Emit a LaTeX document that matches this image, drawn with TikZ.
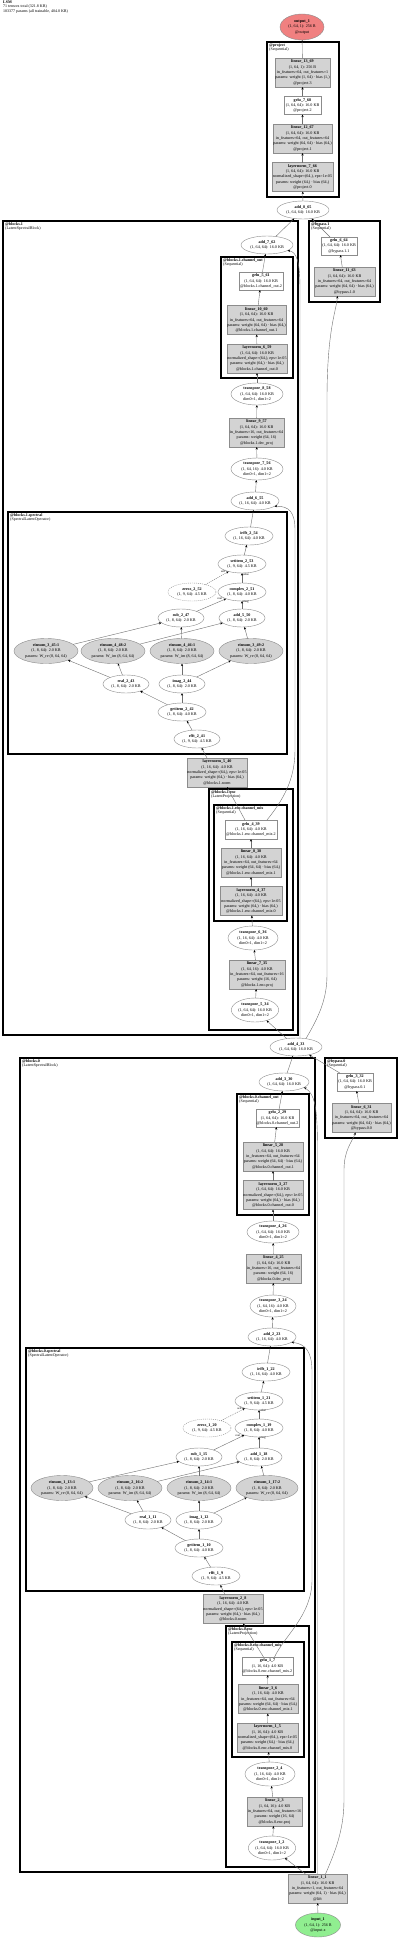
\documentclass[tikz,border=0pt]{standalone}
\usepackage{fontspec}
\setmainfont{Liberation Serif}
\usetikzlibrary{shapes.geometric,arrows.meta,calc}
\definecolor{ng}{HTML}{8C8C8C}
\definecolor{eg}{HTML}{707070}
\definecolor{gf}{HTML}{D3D3D3}
\definecolor{outc}{HTML}{F08080}
\definecolor{inc}{HTML}{90EE90}
\newcommand\nf{\fontsize{4.1}{5.3}\selectfont}
\newcommand\cf{\fontsize{4}{4}\selectfont}
\newcommand\shA{(1, 64, 64): 16.0 KB}
\newcommand\shB{(1, 16, 64): 4.0 KB}
\newcommand\shC{(1, 64, 16): 4.0 KB}
\newcommand\shD{(1, 9, 64): 4.5 KB}
\newcommand\shF{(1, 8, 64): 4.0 KB}
\newcommand\shG{(1, 8, 64): 2.0 KB}
\newcommand\shE{(1, 64, 1): 256 B}
\newcommand\linA{in\_features=64, out\_features=64}
\newcommand\linB{params: weight (64, 64) · bias (64,)}
\newcommand\lnA{normalized\_shape=(64,), eps=1e-05}
\newcommand\lnB{params: weight (64,) · bias (64,)}
\newcommand\trA{dim0=1, dim1=2}
\begin{document}
\begin{tikzpicture}[x=1pt,y=-1pt,
  base/.style={draw=ng,line width=0.4pt,inner sep=0pt,outer sep=0pt,align=center,font=\nf},
  ell/.style={base,ellipse,fill=white},
  box/.style={base,rectangle,fill=white},
  gbox/.style={base,rectangle,fill=gf},
  gell/.style={base,ellipse,fill=gf},
  sz/.style n args={2}{minimum width=#1pt,minimum height=#2pt},
  edge/.style={draw=eg,line width=0.4pt,-{Stealth[length=2.6pt,width=2.2pt,color=black]}},
  clus/.style={draw=black,line width=1.2pt},
  clab/.style={anchor=north west,inner sep=0pt,align=left,font=\cf},
  elab/.style={font=\fontsize{3}{3}\selectfont,inner sep=0.3pt}
]
\useasboundingbox[fill=white] (0,0) rectangle (400,1940);

% header
\node[anchor=north west,inner sep=0pt,align=left,font=\fontsize{4}{4.1}\selectfont] (hdr) at (3,1) {\textbf{LSM}\\71 tensors total (321.8 KB)\\103377 params (all trainable, 404.0 KB)};

% clusters
\draw[clus] (267,42) rectangle (339,197);
\node[clab] (cproject) at (269,43.5) {\textbf{@project}\\(Sequential)};
\draw[clus] (3,221) rectangle (298,1035);
\node[clab] (cb1) at (5,222.5) {\textbf{@blocks.1}\\(LatentSpectralBlock)};
\draw[clus] (309,221) rectangle (380,302);
\node[clab] (cbp1) at (311,222.5) {\textbf{@bypass.1}\\(Sequential)};
\draw[clus] (221,257) rectangle (293,378);
\node[clab] (cb1co) at (223,258.5) {\textbf{@blocks.1.channel\_out}\\(Sequential)};
\draw[clus] (8,512) rectangle (287,754);
\node[clab] (cb1sp) at (10,513.5) {\textbf{@blocks.1.spectral}\\(SpectralLatentOperator)};
\draw[clus] (209,789) rectangle (293,1030);
\node[clab] (cb1enc) at (211,790.5) {\textbf{@blocks.1.enc}\\(LatentProjection)};
\draw[clus] (214,805) rectangle (287,921);
\node[clab] (cb1cm) at (216,806.5) {\textbf{@blocks.1.enc.channel\_mix}\\(Sequential)};
\draw[clus] (20,1058) rectangle (315,1872);
\node[clab] (cb0) at (22,1059.5) {\textbf{@blocks.0}\\(LatentSpectralBlock)};
\draw[clus] (325,1058) rectangle (397,1138);
\node[clab] (cbp0) at (327,1059.5) {\textbf{@bypass.0}\\(Sequential)};
\draw[clus] (237,1094) rectangle (309,1215);
\node[clab] (cb0co) at (239,1095.5) {\textbf{@blocks.0.channel\_out}\\(Sequential)};
\draw[clus] (26,1348) rectangle (304,1591);
\node[clab] (cb0sp) at (28,1349.5) {\textbf{@blocks.0.spectral}\\(SpectralLatentOperator)};
\draw[clus] (226,1626) rectangle (309,1867);
\node[clab] (cb0enc) at (228,1627.5) {\textbf{@blocks.0.enc}\\(LatentProjection)};
\draw[clus] (232,1642) rectangle (304,1757);
\node[clab] (cb0cm) at (234,1643.5) {\textbf{@blocks.0.enc.channel\_mix}\\(Sequential)};

% project
\node[ell,sz={44}{26},fill=outc] (out1) at (302,27) {\textbf{output\_1}\\\shE\\@output};
\node[gbox,sz={55}{29}] (lin1369) at (302.5,72.5) {\textbf{linear\_13\_69}\\\shE\\in\_features=64, out\_features=1\\params: weight (1, 64) · bias (1,)\\@project.3};
\node[box,sz={37}{18}] (gelu768) at (302.5,105.5) {\textbf{gelu\_7\_68}\\\shA\\@project.2};
\node[gbox,sz={59}{29}] (lin1267) at (302.5,138.5) {\textbf{linear\_12\_67}\\\shA\\\linA\\\linB\\@project.1};
\node[gbox,sz={61}{29}] (ln766) at (302.5,177) {\textbf{layernorm\_7\_66}\\\shA\\\lnA\\\lnB\\@project.0};
\node[ell,sz={52}{18}] (add865) at (303,210) {\textbf{add\_8\_65}\\\shA};

% bypass.1
\node[box,sz={36}{18}] (gelu664) at (339,246) {\textbf{gelu\_6\_64}\\\shA\\@bypass.1.1};
\node[gbox,sz={61}{29}] (lin1163) at (344.5,281.5) {\textbf{linear\_11\_63}\\\shA\\\linA\\\linB\\@bypass.1.0};

% blocks.1
\node[ell,sz={52}{18}] (add762) at (267,245) {\textbf{add\_7\_62}\\\shA};
\node[box,sz={44}{18}] (gelu561) at (261,281) {\textbf{gelu\_5\_61}\\\shA\\@blocks.1.channel\_out.2};
\node[gbox,sz={59}{29}] (lin1060) at (256.5,320) {\textbf{linear\_10\_60}\\\shA\\\linA\\\linB\\@blocks.1.channel\_out.1};
\node[gbox,sz={60}{29}] (ln659) at (257,358.5) {\textbf{layernorm\_6\_59}\\\shA\\\lnA\\\lnB\\@blocks.1.channel\_out.0};
\node[ell,sz={52}{22}] (tr858) at (257,394) {\textbf{transpose\_8\_58}\\\shA\\\trA};
\node[gbox,sz={55}{29}] (lin957) at (256.5,432.5) {\textbf{linear\_9\_57}\\\shA\\in\_features=16, out\_features=64\\params: weight (64, 16)\\@blocks.1.dec\_proj};
\node[ell,sz={52}{22}] (tr756) at (257,469) {\textbf{transpose\_7\_56}\\\shC\\\trA};
\node[ell,sz={48}{18}] (add655) at (255,501) {\textbf{add\_6\_55}\\\shB};
\node[ell,sz={48}{18}] (irfft254) at (249,536) {\textbf{irfft\_2\_54}\\\shB};
\node[ell,sz={48}{18}] (set253) at (242,564) {\textbf{setitem\_2\_53}\\\shD};
\node[ell,sz={48}{18},dash pattern=on 1pt off 1pt] (zeros252) at (192,592) {\textbf{zeros\_2\_52}\\\shD};
\node[ell,sz={48}{18}] (cplx251) at (242,592) {\textbf{complex\_2\_51}\\\shF};
\node[ell,sz={46}{18}] (sub247) at (181,618) {\textbf{sub\_2\_47}\\\shG};
\node[ell,sz={46}{18}] (add550) at (242,618) {\textbf{add\_5\_50}\\\shG};
\node[gell,sz={64}{25}] (ein345) at (46,651) {\textbf{einsum\_3\_45:1}\\\shG\\params: W\_re (8, 64, 64)};
\node[gell,sz={64}{25}] (ein448) at (113,651) {\textbf{einsum\_4\_48:2}\\\shG\\params: W\_im (8, 64, 64)};
\node[gell,sz={64}{25}] (ein446) at (182,651) {\textbf{einsum\_4\_46:1}\\\shG\\params: W\_im (8, 64, 64)};
\node[gell,sz={64}{25}] (ein349) at (251,651) {\textbf{einsum\_3\_49:2}\\\shG\\params: W\_re (8, 64, 64)};
\node[ell,sz={46}{18}] (real243) at (126,684) {\textbf{real\_2\_43}\\\shG};
\node[ell,sz={46}{18}] (imag244) at (182,684) {\textbf{imag\_2\_44}\\\shG};
\node[ell,sz={48}{18}] (get242) at (182,712) {\textbf{getitem\_2\_42}\\\shF};
\node[ell,sz={46}{18}] (rfft241) at (197,739) {\textbf{rfft\_2\_41}\\\shD};
\node[gbox,sz={60}{29}] (ln540) at (217,772.5) {\textbf{layernorm\_5\_40}\\\shB\\\lnA\\\lnB\\@blocks.1.norm};
\node[box,sz={52}{19}] (gelu439) at (251,829.5) {\textbf{gelu\_4\_39}\\\shB\\@blocks.1.enc.channel\_mix.2};
\node[gbox,sz={60}{29}] (lin838) at (251,862.5) {\textbf{linear\_8\_38}\\\shB\\\linA\\\linB\\@blocks.1.enc.channel\_mix.1};
\node[gbox,sz={62}{29}] (ln437) at (251,901) {\textbf{layernorm\_4\_37}\\\shB\\\lnA\\\lnB\\@blocks.1.enc.channel\_mix.0};
\node[ell,sz={50}{24}] (tr636) at (253,938) {\textbf{transpose\_6\_36}\\\shB\\\trA};
\node[gbox,sz={56}{29}] (lin735) at (257,974.5) {\textbf{linear\_7\_35}\\\shC\\in\_features=64, out\_features=16\\params: weight (16, 64)\\@blocks.1.enc.proj};
\node[ell,sz={44}{24}] (tr534) at (255,1010) {\textbf{transpose\_5\_34}\\\shA\\\trA};
\node[ell,sz={52}{18}] (add433) at (296,1047) {\textbf{add\_4\_33}\\\shA};

% bypass.0
\node[box,sz={36}{18}] (gelu332) at (355,1082) {\textbf{gelu\_3\_32}\\\shA\\@bypass.0.1};
\node[gbox,sz={59}{29}] (lin631) at (361.5,1118) {\textbf{linear\_6\_31}\\\shA\\\linA\\\linB\\@bypass.0.0};

% blocks.0
\node[ell,sz={50}{18}] (add330) at (284,1082) {\textbf{add\_3\_30}\\\shA};
\node[box,sz={43}{18}] (gelu229) at (277.5,1118) {\textbf{gelu\_2\_29}\\\shA\\@blocks.0.channel\_out.2};
\node[gbox,sz={60}{29}] (lin528) at (273,1156.5) {\textbf{linear\_5\_28}\\\shA\\\linA\\\linB\\@blocks.0.channel\_out.1};
\node[gbox,sz={60}{29}] (ln327) at (273,1195) {\textbf{layernorm\_3\_27}\\\shA\\\lnA\\\lnB\\@blocks.0.channel\_out.0};
\node[ell,sz={52}{22}] (tr426) at (273,1232) {\textbf{transpose\_4\_26}\\\shA\\\trA};
\node[gbox,sz={55}{29}] (lin425) at (273.5,1268.5) {\textbf{linear\_4\_25}\\\shA\\in\_features=16, out\_features=64\\params: weight (64, 16)\\@blocks.0.dec\_proj};
\node[ell,sz={46}{22}] (tr324) at (273,1306) {\textbf{transpose\_3\_24}\\\shC\\\trA};
\node[ell,sz={48}{18}] (add223) at (272,1337) {\textbf{add\_2\_23}\\\shB};
\node[ell,sz={48}{18}] (irfft122) at (266,1372) {\textbf{irfft\_1\_22}\\\shB};
\node[ell,sz={48}{18}] (set121) at (259,1401) {\textbf{setitem\_1\_21}\\\shD};
\node[ell,sz={48}{18},dash pattern=on 1pt off 1pt] (zeros120) at (207,1428) {\textbf{zeros\_1\_20}\\\shD};
\node[ell,sz={48}{18}] (cplx119) at (259,1428) {\textbf{complex\_1\_19}\\\shF};
\node[ell,sz={46}{18}] (sub115) at (199,1457) {\textbf{sub\_1\_15}\\\shG};
\node[ell,sz={46}{18}] (add118) at (259,1457) {\textbf{add\_1\_18}\\\shG};
\node[gell,sz={62}{25}] (ein113) at (62,1488) {\textbf{einsum\_1\_13:1}\\\shG\\params: W\_re (8, 64, 64)};
\node[gell,sz={64}{25}] (ein216) at (130,1488) {\textbf{einsum\_2\_16:2}\\\shG\\params: W\_im (8, 64, 64)};
\node[gell,sz={64}{25}] (ein214) at (199,1488) {\textbf{einsum\_2\_14:1}\\\shG\\params: W\_im (8, 64, 64)};
\node[gell,sz={62}{25}] (ein117) at (267,1488) {\textbf{einsum\_1\_17:2}\\\shG\\params: W\_re (8, 64, 64)};
\node[ell,sz={46}{18}] (real111) at (148,1520) {\textbf{real\_1\_11}\\\shG};
\node[ell,sz={46}{18}] (imag112) at (199,1520) {\textbf{imag\_1\_12}\\\shG};
\node[ell,sz={48}{18}] (get110) at (199,1548) {\textbf{getitem\_1\_10}\\\shF};
\node[ell,sz={48}{18}] (rfft19) at (216,1576) {\textbf{rfft\_1\_9}\\\shD};
\node[gbox,sz={60}{29}] (ln28) at (233,1609) {\textbf{layernorm\_2\_8}\\\shB\\\lnA\\\lnB\\@blocks.0.norm};
\node[box,sz={51}{18}] (gelu17) at (267.5,1666) {\textbf{gelu\_1\_7}\\\shB\\@blocks.0.enc.channel\_mix.2};
\node[gbox,sz={60}{29}] (lin36) at (268,1699) {\textbf{linear\_3\_6}\\\shB\\\linA\\\linB\\@blocks.0.enc.channel\_mix.1};
\node[gbox,sz={61}{29}] (ln15) at (267.5,1737.5) {\textbf{layernorm\_1\_5}\\\shB\\\lnA\\\lnB\\@blocks.0.enc.channel\_mix.0};
\node[ell,sz={50}{24}] (tr24) at (270,1774) {\textbf{transpose\_2\_4}\\\shB\\\trA};
\node[gbox,sz={55}{29}] (lin23) at (274.5,1811.5) {\textbf{linear\_2\_3}\\\shC\\in\_features=64, out\_features=16\\params: weight (16, 64)\\@blocks.0.enc.proj};
\node[ell,sz={44}{24}] (tr12) at (272,1848) {\textbf{transpose\_1\_2}\\\shA\\\trA};
\node[gbox,sz={59}{29}] (lin11) at (317.5,1888.5) {\textbf{linear\_1\_1}\\\shA\\in\_features=1, out\_features=64\\params: weight (64, 1) · bias (64,)\\@lift};
\node[ell,sz={45}{24},fill=inc] (in1) at (318,1925) {\textbf{input\_1}\\\shE\\@input.x};

% ---------- edges ----------
\draw[edge] (in1) -- (lin11);
\draw[edge] ($(lin11.north)+(-12,0)$) -- (tr12);
\draw[edge] (tr12) -- (lin23);
\draw[edge] (lin23) -- (tr24);
\draw[edge] (tr24) -- (ln15);
\draw[edge] (ln15) -- (lin36);
\draw[edge] (lin36) -- (gelu17);
\draw[edge] ($(gelu17.north)+(-4,0)$) -- ($(ln28.south)+(10,0)$);
\draw[edge] ($(ln28.north)+(-8,0)$) -- (rfft19);
\draw[edge] (rfft19) -- (get110);
\draw[edge] (get110) -- (real111);
\draw[edge] (get110) -- (imag112);
\draw[edge] (real111) -- (ein113);
\draw[edge] (real111) -- (ein216);
\draw[edge] (imag112) -- (ein214);
\draw[edge] (imag112) -- (ein117);
\draw[edge] (ein113) -- (sub115);
\draw[edge] (ein214) -- (sub115);
\draw[edge] (ein216) -- (add118);
\draw[edge] (ein117) -- (add118);
\draw[edge] (sub115) -- node[elab,pos=0.88,above left] {real} (cplx119);
\draw[edge] (add118) -- node[elab,pos=0.9,right] {imag} (cplx119);
\draw[edge] (cplx119) -- node[elab,pos=0.9,right] {value} (set121);
\draw[edge,dash pattern=on 1pt off 1pt] (zeros120) -- node[elab,pos=0.88,above left] {self} (set121);
\draw[edge] (set121) -- (irfft122);
\draw[edge] (irfft122) -- (add223);
\draw[edge] ($(gelu17.north)+(7,0)$) .. controls (285,1635) and (312,1615) .. (312,1580) -- (312,1372) .. controls (312,1352) and (306,1344) .. (add223.-15);
\draw[edge] (add223) -- (tr324);
\draw[edge] (tr324) -- (lin425);
\draw[edge] (lin425) -- (tr426);
\draw[edge] (tr426) -- (ln327);
\draw[edge] (ln327) -- (lin528);
\draw[edge] (lin528) -- (gelu229);
\draw[edge] (gelu229) -- (add330);
\draw[edge] (lin11.north) -- (317.5,1150) .. controls (317.5,1108) and (315,1094) .. (add330.-15);
\draw[edge] ($(lin11.north)+(8,0)$) .. controls (335,1852) and (344,1830) .. (344,1800) -- (344,1170) .. controls (344,1150) and (352,1142) .. ($(lin631.south)+(-6,0)$);
\draw[edge] (lin631) -- (gelu332);
\draw[edge] (gelu332) -- (add433);
\draw[edge] (add330) -- (add433);
\draw[edge] (add433) -- (tr534);
\draw[edge] (tr534) -- (lin735);
\draw[edge] (lin735) -- (tr636);
\draw[edge] (tr636) -- (ln437);
\draw[edge] (ln437) -- (lin838);
\draw[edge] (lin838) -- (gelu439);
\draw[edge] ($(gelu439.north)+(-6,0)$) -- ($(ln540.south)+(10,0)$);
\draw[edge] ($(ln540.north)+(-10,0)$) -- (rfft241);
\draw[edge] (rfft241) -- (get242);
\draw[edge] (get242) -- (real243);
\draw[edge] (get242) -- (imag244);
\draw[edge] (real243) -- (ein345);
\draw[edge] (real243) -- (ein448);
\draw[edge] (imag244) -- (ein446);
\draw[edge] (imag244) -- (ein349);
\draw[edge] (ein345) -- (sub247);
\draw[edge] (ein446) -- (sub247);
\draw[edge] (ein448) -- (add550);
\draw[edge] (ein349) -- (add550);
\draw[edge] (sub247) -- node[elab,pos=0.88,above left] {real} (cplx251);
\draw[edge] (add550) -- node[elab,pos=0.9,right] {imag} (cplx251);
\draw[edge] (cplx251) -- node[elab,pos=0.9,right] {value} (set253);
\draw[edge,dash pattern=on 1pt off 1pt] (zeros252) -- node[elab,pos=0.88,above left] {self} (set253);
\draw[edge] (set253) -- (irfft254);
\draw[edge] (irfft254) -- (add655);
\draw[edge] ($(gelu439.north)+(16,0)$) .. controls (283,800) and (295,780) .. (295,750) -- (295,530) .. controls (295,512) and (289,506) .. (add655.-15);
\draw[edge] (add655) -- (tr756);
\draw[edge] (tr756) -- (lin957);
\draw[edge] (lin957) -- (tr858);
\draw[edge] (tr858) -- (ln659);
\draw[edge] (ln659) -- (lin1060);
\draw[edge] (lin1060) -- (gelu561);
\draw[edge] (gelu561) -- (add762);
\draw[edge] ($(add433.north)+(4,0)$) -- (300,290) .. controls (300,262) and (297,252) .. (add762.-15);
\draw[edge] (add433.40) .. controls (318,1018) and (327,1000) .. (327,975) -- (327,400) .. controls (327,330) and (336,312) .. ($(lin1163.south)+(-7,0)$);
\draw[edge] (lin1163) -- (gelu664);
\draw[edge] (gelu664) -- (add865);
\draw[edge] (add762) -- (add865);
\draw[edge] (add865) -- (ln766);
\draw[edge] (ln766) -- (lin1267);
\draw[edge] (lin1267) -- (gelu768);
\draw[edge] (gelu768) -- (lin1369);
\draw[edge] (lin1369) -- (out1);
\end{tikzpicture}
\end{document}
